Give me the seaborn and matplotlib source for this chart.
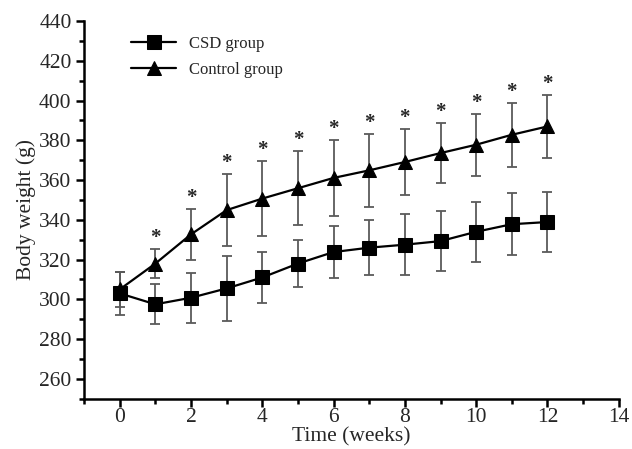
import numpy as np
import pandas as pd
import matplotlib
matplotlib.use("Agg")
import matplotlib.pyplot as plt
import seaborn as sns
from matplotlib.ticker import MultipleLocator

# Data
weeks = [0, 1, 2, 3, 4, 5, 6, 7, 8, 9, 10, 11, 12]
csd_mean = [303, 297.5, 300.8, 305.5, 311, 318, 323.8, 326, 327.5, 329.3, 334, 337.8, 338.9]
csd_sd = [11, 10, 12.5, 16.5, 13, 12, 13, 14, 15.5, 15, 15, 15.5, 15]
ctrl_mean = [305, 318, 332.7, 344.9, 350.7, 355.9, 361.1, 364.9, 369.1, 373.6, 377.8, 382.8, 387]
ctrl_sd = [9, 7.5, 13, 18, 19, 18.5, 19, 18.5, 16.5, 15, 15.5, 16, 16]
star_weeks = [1, 2, 3, 4, 5, 6, 7, 8, 9, 10, 11, 12]

df = pd.DataFrame({
    "week": weeks * 2,
    "weight": csd_mean + ctrl_mean,
    "group": ["CSD group"] * len(weeks) + ["Control group"] * len(weeks),
})

sns.set_style("ticks")
plt.rcParams["font.family"] = ["Liberation Serif", "DejaVu Serif"]

fig = plt.figure(figsize=(6.32, 4.49), dpi=100)
ax = fig.add_axes([0.133, 0.112, 0.846, 0.841])

# error bars (gray, capped)
for m, sd in [(csd_mean, csd_sd), (ctrl_mean, ctrl_sd)]:
    ax.errorbar(weeks, m, yerr=sd, fmt="none", ecolor="#5a5a5a",
                elinewidth=1.3, capsize=3.6, capthick=1.3, zorder=1)

sns.lineplot(data=df, x="week", y="weight", style="group",
             markers={"CSD group": "s", "Control group": "^"},
             dashes=False, color="black", linewidth=1.6, markersize=10,
             markeredgecolor="black", ax=ax, zorder=3)

# significance stars
for w in star_weeks:
    i = weeks.index(w)
    ax.text(w, ctrl_mean[i] + ctrl_sd[i] + 0.5, "*", ha="center", va="bottom",
            fontsize=15, fontweight="bold")

ax.set_xlim(-1, 14)
ax.set_ylim(250, 440)
ax.xaxis.set_major_locator(MultipleLocator(2))
ax.xaxis.set_minor_locator(MultipleLocator(1))
ax.yaxis.set_minor_locator(MultipleLocator(10))
ax.set_yticks(range(260, 441, 20))
ax.tick_params(which="major", direction="out", length=6, width=1.8, labelsize=15.5,
               color="black", pad=3)
ax.tick_params(axis="x", which="major", pad=1)
ax.tick_params(which="minor", direction="out", length=3.5, width=1.8, color="black")
for s in ["left", "bottom"]:
    ax.spines[s].set_linewidth(1.8)
    ax.spines[s].set_color("black")
sns.despine(ax=ax)

ax.set_xlabel("Time (weeks)", fontsize=15.5, labelpad=0)
ax.set_ylabel("Body weight (g)", fontsize=15.5, labelpad=2)

ax.legend(loc="upper left", bbox_to_anchor=(0.06, 1.0), frameon=False,
          fontsize=12, handlelength=2.7, labelspacing=0.6, title=None)

fig.savefig("out.png", dpi=100)
